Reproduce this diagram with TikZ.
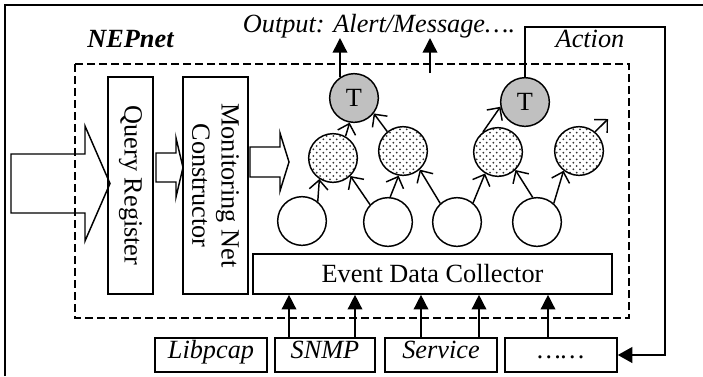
\documentclass[tikz,border=0pt]{standalone}
\usepackage{fontspec}
\setmainfont{Liberation Serif}
\usetikzlibrary{arrows.meta}
\usetikzlibrary{patterns}
\newcommand{\nepsize}{\fontsize{19.7}{22}\selectfont}
\pgfdeclarepatternformonly{nepdots}{\pgfqpoint{-1pt}{-1pt}}{\pgfqpoint{4pt}{4pt}}{\pgfqpoint{5pt}{5pt}}{
  \pgfpathcircle{\pgfqpoint{0pt}{0pt}}{0.75pt}
  \pgfpathcircle{\pgfqpoint{2.5pt}{2.5pt}}{0.75pt}
  \pgfusepath{fill}}

\begin{document}
\begin{tikzpicture}[x=0.75pt,y=0.75pt,yscale=-1,xscale=1,
  font=\nepsize,
  box/.style={draw,line width=1.2pt,inner sep=0pt},
  srcbox/.style={box,minimum width=84pt,minimum height=25.5pt,text height=0.68em,text depth=0.2em,font=\nepsize\itshape},
  plain circ/.style={draw,circle,line width=1.1pt,minimum size=36.5pt,inner sep=0pt},
  dot circ/.style={plain circ,pattern=nepdots,pattern color=black!80},
  trig circ/.style={plain circ,fill={rgb, 255:red, 192; green, 192; blue, 192 }},
  link/.style={line width=1.1pt,-{Straight Barb[length=7pt,width=14pt,line width=1.1pt]}},
  feed/.style={line width=1.1pt,-{Triangle[length=11pt,width=11pt]}},
  bigarrow/.style={line width=1.1pt}]
\useasboundingbox (0,0) rectangle (703,376);

%Frame
\draw [line width=1.5pt] (5,376) -- (5,5) -- (703,5) ;
%NEPnet region
\draw [line width=1.1pt,dash pattern={on 6pt off 3pt}] (75,64) rectangle (629,318) ;

%Block arrows
\draw [bigarrow] (11,154) -- (85,154) -- (85,126) -- (110,183.5) -- (85,241) -- (85,213) -- (11,213) -- cycle ;
\draw [bigarrow] (156,153) -- (176,153) -- (176,138) -- (183,167.5) -- (176,197) -- (176,182) -- (156,182) -- cycle ;
\draw [bigarrow] (250,147) -- (280,147) -- (280,133) -- (289,162) -- (280,191) -- (280,177) -- (250,177) -- cycle ;

%Boxes
\node [box,rotate=-90,minimum width=162.75pt,minimum height=33.75pt] (qreg) at (130.5,185.5) {Query Register};
\node [box,rotate=-90,minimum width=162.75pt,minimum height=48.75pt,align=center] (mnc) at (215.5,185.5) {Monitoring Net\\Constructor};
\node [box,minimum width=269.25pt,minimum height=30pt] (edc) at (432.5,274) {Event Data Collector};

%Sources
\node [srcbox] (libpcap) at (211,355) {Libpcap};
\node [srcbox,minimum width=75pt] (snmp) at (325,355) {SNMP};
\node [srcbox] (service) at (441,355) {Service};
\node [srcbox] (more) at (561,355) {……};

%Net circles
\node [trig circ] (tnode1) at (354,98) {T};
\node [trig circ] (tnode2) at (525,102) {T};
\node [dot circ] (dot1) at (333,158) {};
\node [dot circ] (dot2) at (403,151) {};
\node [dot circ] (dot3) at (498,152) {};
\node [dot circ] (dot4) at (579,151) {};
\node [plain circ] (base1) at (302,221) {};
\node [plain circ] (base2) at (388,222) {};
\node [plain circ] (base3) at (457,222) {};
\node [plain circ] (base4) at (537,222) {};

%Links
\draw [link] (dot1.60) -- (tnode1.-100) ;
\draw [link] (dot2.129) -- (tnode1.-38) ;
\draw [link] (base1.51) -- (dot1.-123) ;
\draw [link] (base2.136) -- (dot1.-46) ;
\draw [link] (base2.85) -- (dot2.-100) ;
\draw [link] (base3.132) -- (dot2.-48) ;
\draw [link] (base3.50) -- (dot3.-121) ;
\draw [link] (base4.100) -- (dot3.-46) ;
\draw [link] (base4.48) -- (dot4.-128) ;
\draw [link] (dot3.127) -- (tnode2.191) ;
\coordinate (spill) at (608,119);
\draw [link] (dot4.50) -- (spill) ;

%Inputs to collector
\foreach \x/\src in {289/snmp,355/snmp,421/service,479/service,548/more}{
  \coordinate (col) at (\x,0);
  \draw [feed] (\src.north -| col) -- (edc.south -| col) ;
}

%Outputs
\coordinate (out1) at (338,38);
\draw [feed] (tnode1.124) -- (tnode1.124 |- out1) ;
\coordinate (out2a) at (430,73);
\coordinate (out2b) at (430,38);
\draw [feed] (out2a) -- (out2b) ;
\coordinate (act) at (665,27);
\draw [line width=1.1pt,-{Triangle[length=11pt,width=12pt]}] (tnode2.north) |- (act) |- (more.east) ;

% Text Node
\node [anchor=base,font=\nepsize\bfseries\itshape] (title) at (130.5,47) {NEPnet};
% Text Node
\node [anchor=base,font=\nepsize\itshape] (outtxt) at (379,32) {Output: Alert/Message….};
% Text Node
\node [anchor=base,font=\nepsize\itshape] (acttxt) at (590,47) {Action};

\end{tikzpicture}
\end{document}
